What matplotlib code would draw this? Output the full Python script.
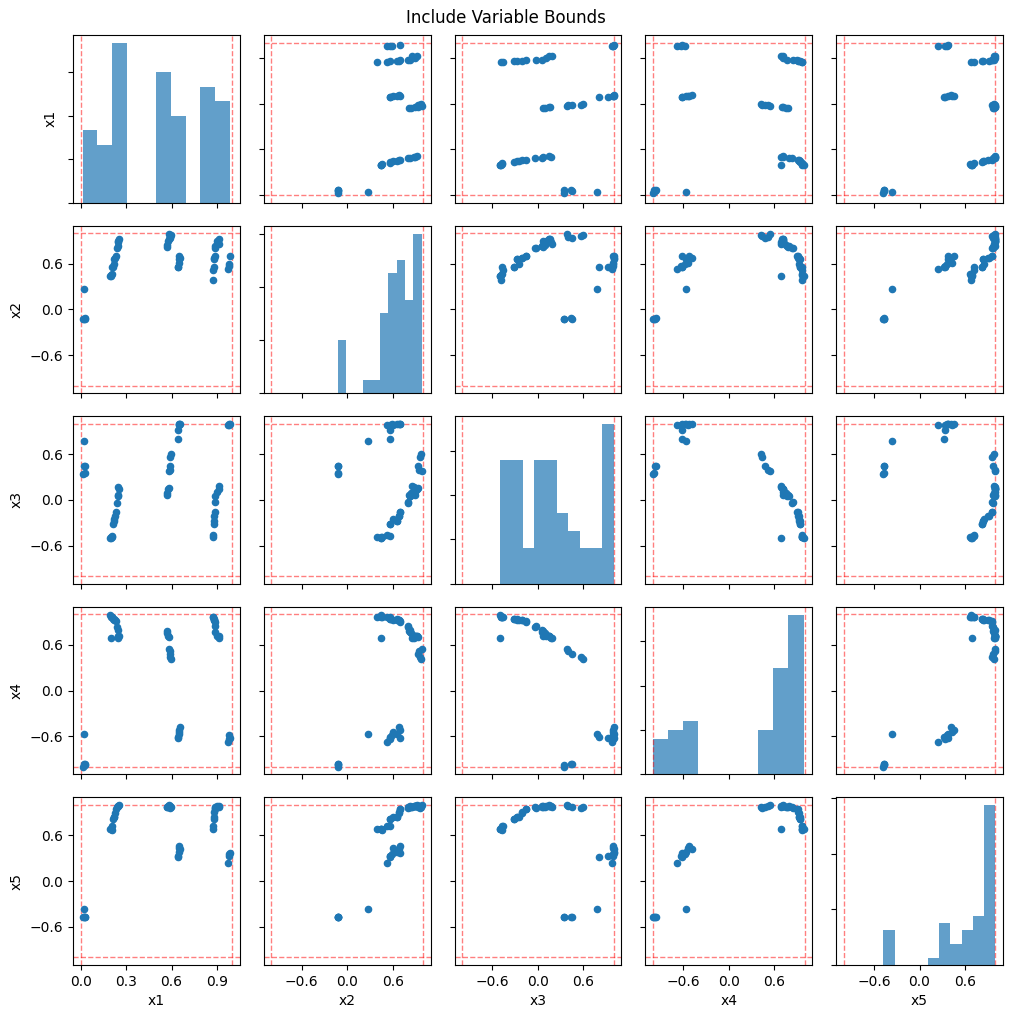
import matplotlib
matplotlib.use("Agg")
import matplotlib.pyplot as plt
from matplotlib.ticker import MultipleLocator
import numpy as np

names = ["x1", "x2", "x3", "x4", "x5"]
lower_bounds = [0.0, -1.0, -1.0, -1.0, -1.0]
upper_bounds = [1.0, 1.0, 1.0, 1.0, 1.0]

# groups of samples (A, B, D, E, C, F)
x1 = [0.02, 0.013, 0.03, 0.025, 0.03,
      0.195, 0.200, 0.200, 0.205, 0.210, 0.220, 0.215, 0.222, 0.228, 0.232, 0.240, 0.245, 0.250, 0.253, 0.250,
      0.568, 0.572, 0.576, 0.580, 0.586, 0.589, 0.591, 0.593, 0.594,
      0.640, 0.645, 0.650, 0.655, 0.650, 0.648,
      0.872, 0.875, 0.878, 0.880, 0.882, 0.884, 0.885, 0.886, 0.900, 0.910, 0.915,
      0.975, 0.980, 0.984, 0.978]
x2 = [0.27, -0.124, -0.12, -0.12, -0.115,
      0.44, 0.45, 0.44, 0.46, 0.56, 0.60, 0.56, 0.66, 0.68, 0.70, 0.80, 0.83, 0.90, 0.92, 0.88,
      0.82, 0.84, 0.90, 0.93, 0.983, 0.95, 0.94, 0.96, 0.98,
      0.56, 0.56, 0.61, 0.68, 0.70, 0.66,
      0.39, 0.52, 0.56, 0.66, 0.68, 0.70, 0.80, 0.83, 0.90, 0.92, 0.86,
      0.53, 0.57, 0.70, 0.59]
x3 = [0.78, 0.34, 0.35, 0.45, 0.44,
      -0.497, -0.49, -0.495, -0.48, -0.47, -0.25, -0.31, -0.28, -0.21, -0.16, -0.04, 0.05, 0.06, 0.14, 0.17,
      0.06, 0.09, 0.14, 0.16, 0.38, 0.39, 0.45, 0.57, 0.60,
      0.80, 0.92, 0.99, 0.997, 0.995, 0.998,
      -0.49, -0.46, -0.31, -0.28, -0.21, -0.16, -0.03, 0.05, 0.11, 0.14, 0.18,
      0.98, 0.99, 0.998, 0.995]
x4 = [-0.57, -1.0, -0.98, -0.97, -0.96,
      0.987, 0.96, 0.69, 0.97, 0.97, 0.93, 0.94, 0.94, 0.93, 0.91, 0.84, 0.79, 0.72, 0.71, 0.69,
      0.78, 0.76, 0.72, 0.70, 0.55, 0.52, 0.48, 0.44, 0.42,
      -0.61, -0.62, -0.54, -0.48, -0.52, -0.57,
      0.97, 0.96, 0.94, 0.93, 0.92, 0.90, 0.85, 0.77, 0.72, 0.71, 0.69,
      -0.68, -0.63, -0.62, -0.58]
x5 = [-0.36, -0.476, -0.47, -0.475, -0.472,
      0.68, 0.69, 0.69, 0.67, 0.72, 0.845, 0.82, 0.84, 0.90, 0.95, 0.97, 0.99, 0.99, 0.997, 0.99,
      0.97, 0.98, 0.99, 0.99, 0.997, 0.99, 0.97, 0.96, 0.98,
      0.32, 0.33, 0.43, 0.42, 0.46, 0.38,
      0.68, 0.72, 0.82, 0.84, 0.91, 0.95, 0.96, 0.98, 0.99, 0.99, 0.98,
      0.24, 0.33, 0.37, 0.36]

ticks_unit = [0.0, 0.3, 0.6, 0.9]
ticks_sym = [-0.6, 0.0, 0.6]
axis_ticks = [ticks_unit, ticks_sym, ticks_sym, ticks_sym, ticks_sym]
hist_tick_step = [3, 4, 2.5, 5, 8]

data = [np.array(v) for v in (x1, x2, x3, x4, x5)]
n = len(names)

fig, axes = plt.subplots(n, n, figsize=(10.11, 10.11), dpi=100)
fig.subplots_adjust(left=0.0722, right=0.992, top=0.9654, bottom=0.0455,
                    wspace=0.144, hspace=0.137)

blue = "#1f77b4"
for i in range(n):
    for j in range(n):
        ax = axes[i, j]
        lo_j, hi_j = lower_bounds[j], upper_bounds[j]
        pad_j = 0.05 * (hi_j - lo_j)
        if i == j:
            ax.hist(data[j], bins=10, color=blue, alpha=0.7)
            ax.axvline(lo_j, color="red", ls="--", lw=1, alpha=0.5)
            ax.axvline(hi_j, color="red", ls="--", lw=1, alpha=0.5)
            ax.yaxis.set_major_locator(MultipleLocator(hist_tick_step[j]))
            ax.set_yticklabels([])
        else:
            lo_i, hi_i = lower_bounds[i], upper_bounds[i]
            pad_i = 0.05 * (hi_i - lo_i)
            ax.scatter(data[j], data[i], s=20, color=blue, zorder=3)
            ax.axvline(lo_j, color="red", ls="--", lw=1, alpha=0.5)
            ax.axvline(hi_j, color="red", ls="--", lw=1, alpha=0.5)
            ax.axhline(lo_i, color="red", ls="--", lw=1, alpha=0.5)
            ax.axhline(hi_i, color="red", ls="--", lw=1, alpha=0.5)
            ax.set_ylim(lo_i - pad_i, hi_i + pad_i)
            ax.set_yticks(axis_ticks[i])
            if j != 0:
                ax.set_yticklabels([])
        ax.set_xlim(lo_j - pad_j, hi_j + pad_j)
        ax.set_xticks(axis_ticks[j])
        if i != n - 1:
            ax.set_xticklabels([])
        else:
            ax.set_xlabel(names[j])
        if j == 0:
            ax.set_ylabel(names[i])

fig.suptitle("Include Variable Bounds", y=0.991, fontsize=12)
fig.savefig("out.png", dpi=100)
